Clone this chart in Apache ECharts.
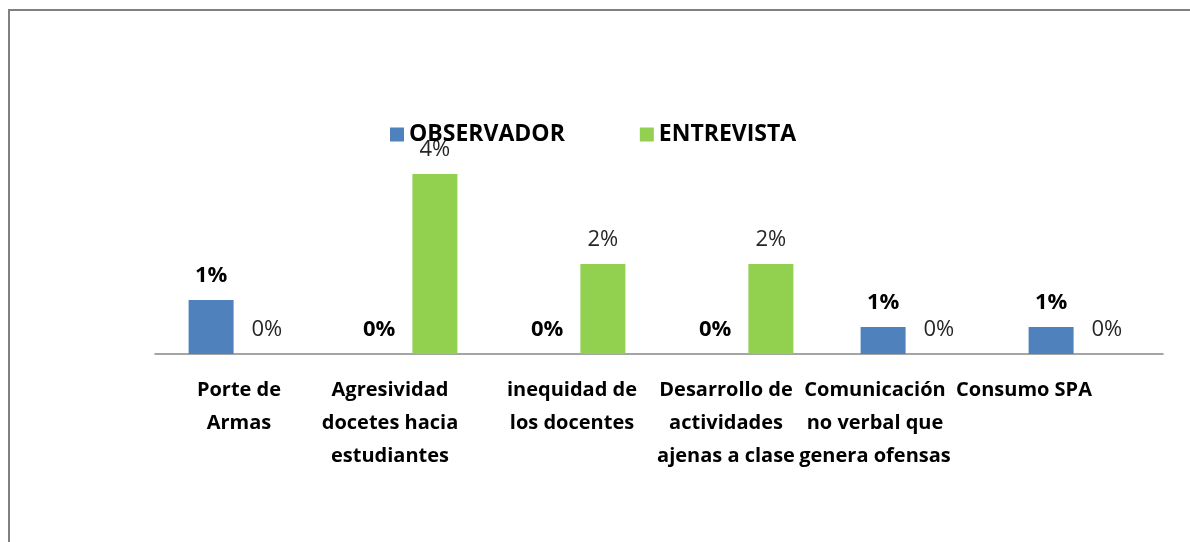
<!DOCTYPE html>
<html lang="es">
<head>
  <meta charset="UTF-8">
  <title>Observador / Entrevista</title>
  <script src="https://cdn.jsdelivr.net/npm/echarts@6/dist/echarts.min.js"></script>
  <style>
    html, body { margin: 0; padding: 0; background: #fff; }
    #chart { width: 1190px; height: 542px; }
  </style>
</head>
<body>
<div id="chart"></div>
<script>
  // categorias (con los saltos de linea del original)
  var categorias = [
    'Porte de\nArmas',
    'Agresividad\ndocetes hacia\nestudiantes',
    'inequidad de\nlos docentes',
    'Desarrollo de\nactividades\najenas a clase',
    'Comunicación\nno verbal que\ngenera ofensas',
    'Consumo SPA'
  ];
  // valores en %
  var observador = [1.2, 0, 0, 0, 0.6, 0.6];
  var entrevista = [0, 4, 2, 2, 0, 0];

  var fuente = '"Open Sans", "Noto Sans", sans-serif';

  var myChart = echarts.init(document.getElementById('chart'));

  function pct(p) {
    return Math.round(p.value) + '%';
  }

  // en el original las etiquetas no quedan centradas, se corren a la izquierda (px)
  var corrimiento = [0, 17, 3, 17, 36, 55];
  var ejeX = categorias.map(function (c, i) {
    return { value: c, textStyle: { padding: [0, corrimiento[i] * 2, 0, 0] } };
  });

  var option = {
    animation: false,
    textStyle: { fontFamily: fuente },
    graphic: [{
      type: 'rect',
      shape: { x: 9, y: 10, width: 1300, height: 700 },
      style: { fill: 'none', stroke: '#808080', lineWidth: 2 },
      silent: true
    }],
    legend: {
      left: 385,
      top: 118,
      itemWidth: 14,
      itemHeight: 14,
      itemGap: 75,
      icon: 'rect',
      textStyle: { fontFamily: fuente, fontSize: 23, fontWeight: 'bold', color: '#000' },
      data: ['OBSERVADOR', 'ENTREVISTA']
    },
    grid: { left: 155, right: 27, top: 129, bottom: 188, outerBoundsMode: 'none' },
    xAxis: {
      type: 'category',
      data: ejeX,
      axisTick: { show: false },
      axisLine: { lineStyle: { color: '#868686', width: 1.5 } },
      axisLabel: {
        interval: 0,
        margin: 20,
        fontFamily: fuente,
        fontSize: 20,
        fontWeight: 'bold',
        lineHeight: 33,
        color: '#000'
      }
    },
    yAxis: {
      type: 'value',
      min: 0,
      max: 5,
      show: false,
      splitLine: { show: false }
    },
    series: [
      {
        name: 'OBSERVADOR',
        type: 'bar',
        data: observador,
        barGap: '24%',
        barCategoryGap: '40%',
        itemStyle: { color: '#4F81BD' },
        label: {
          show: true,
          position: 'top',
          distance: 13,
          formatter: pct,
          fontFamily: fuente,
          fontSize: 22,
          fontWeight: 'bold',
          color: '#000'
        }
      },
      {
        name: 'ENTREVISTA',
        type: 'bar',
        data: entrevista,
        itemStyle: { color: '#92D050' },
        label: {
          show: true,
          position: 'top',
          distance: 13,
          formatter: pct,
          fontFamily: fuente,
          fontSize: 22,
          color: '#262626'
        }
      }
    ]
  };

  option && myChart.setOption(option);
</script>
</body>
</html>
